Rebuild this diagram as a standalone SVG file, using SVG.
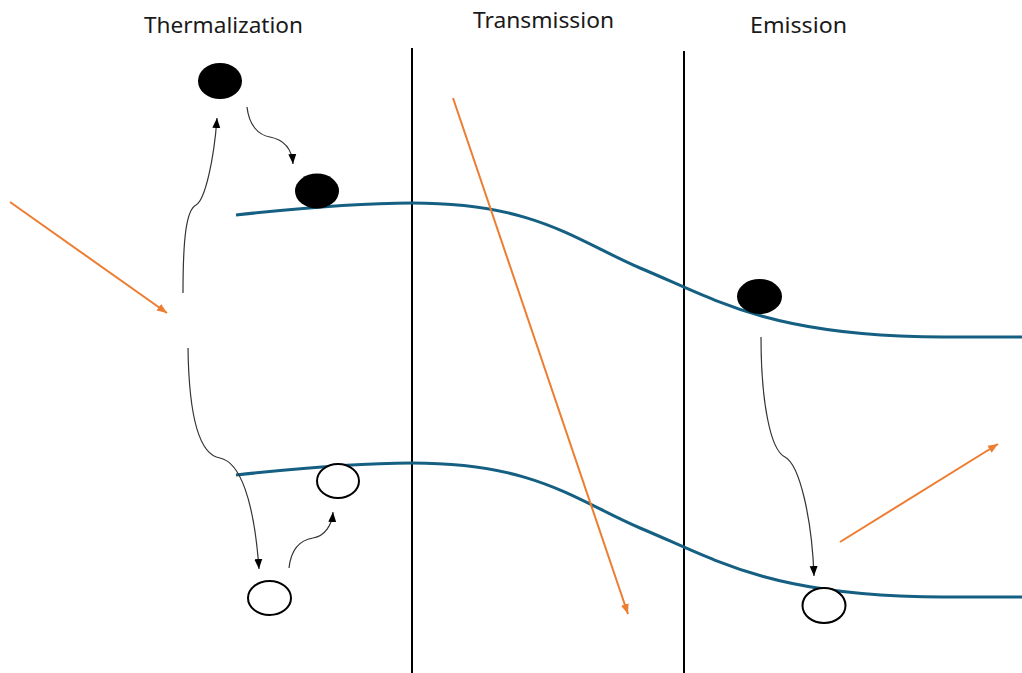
<svg xmlns="http://www.w3.org/2000/svg" width="1022" height="673" viewBox="0 0 1022 673">
<style>
.lbl{font-family:"Noto Sans","Liberation Sans",sans-serif;font-size:21px;fill:#1a1a1a;text-anchor:middle}
.div{stroke:#000;stroke-width:2;fill:none}
.band{stroke:#156082;stroke-width:3;fill:none}
.full{fill:#000}
.hole{fill:#fff;stroke:#000;stroke-width:2}
.hop{stroke:#333;stroke-width:1.2;fill:none;marker-end:url(#ab)}
.ray{stroke:#ED7D31;stroke-width:2;fill:none;marker-end:url(#ao)}
</style>
<defs>
<marker id="ab" markerUnits="userSpaceOnUse" markerWidth="10" markerHeight="10" viewBox="0 0 10 10" refX="10" refY="5" orient="auto"><path d="M0,1 L10,5 L0,9 z" fill="#000"/></marker>
<marker id="ao" markerUnits="userSpaceOnUse" markerWidth="10" markerHeight="10" viewBox="0 0 10 10" refX="10" refY="5" orient="auto"><path d="M0,1 L10,5 L0,9 z" fill="#ED7D31"/></marker>
</defs>
<rect width="1022" height="673" fill="#fff"/>
<g id="labels">
<text class="lbl" x="223.5" y="33" textLength="159" lengthAdjust="spacingAndGlyphs">Thermalization</text>
<text class="lbl" x="543.5" y="28" textLength="141" lengthAdjust="spacingAndGlyphs">Transmission</text>
<text class="lbl" x="798.5" y="33" textLength="97" lengthAdjust="spacingAndGlyphs">Emission</text>
</g>
<g id="dividers">
<line class="div" x1="412" y1="48" x2="412" y2="673"/>
<line class="div" x1="684" y1="51" x2="684" y2="673"/>
</g>
<g id="conduction-band">
<path class="band" d="M236,215 C300,208 360,203 412,203 C535,203 575,240 640,268 C710,297 760,330 900,336 C940,337.7 990,337 1022,337"/>
</g>
<g id="valence-band">
<path class="band" transform="translate(0,260)" d="M236,215 C300,208 360,203 412,203 C535,203 575,240 640,268 C710,297 760,330 900,336 C940,337.7 990,337 1022,337"/>
</g>
<g id="connectors">
<path class="hop" d="M183,293 C183,240 186,210 196,205 C205,200 214,160 217,118"/>
<path class="hop" d="M247,107 C249,125 258,135 270,137 C285,140 292,150 293,164"/>
<path class="hop" d="M188,348 C189,420 200,455 220,458 C240,462 254,500 259,569"/>
<path class="hop" d="M289,568 C291,550 300,540 313,538 C325,536 332,525 333,512"/>
<path class="hop" d="M761,337 C761,400 770,450 785,457 C800,465 812,520 814,576"/>
<line class="ray" x1="10" y1="202" x2="167" y2="313"/>
<line class="ray" x1="453" y1="98" x2="628" y2="614"/>
<line class="ray" x1="840" y1="542" x2="998" y2="444"/>
</g>
<g id="electron-hot"><ellipse class="full" cx="220" cy="81" rx="22" ry="18"/></g>
<g id="electron-relaxed"><ellipse class="full" cx="317" cy="191" rx="22" ry="17.5"/></g>
<g id="electron-emission"><ellipse class="full" cx="759.5" cy="296.5" rx="22.5" ry="17.5"/></g>
<g id="hole-relaxed"><ellipse class="hole" cx="338" cy="481" rx="21" ry="17"/></g>
<g id="hole-hot"><ellipse class="hole" cx="269.5" cy="598" rx="21.5" ry="17"/></g>
<g id="hole-emission"><ellipse class="hole" cx="824" cy="605.5" rx="21.5" ry="17.5"/></g>
</svg>
